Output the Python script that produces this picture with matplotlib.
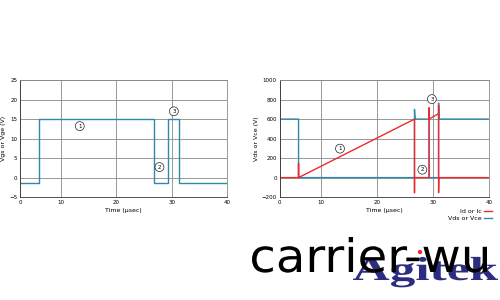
import matplotlib.pyplot as plt
from matplotlib.textpath import TextPath
from matplotlib.patches import PathPatch, Circle
from matplotlib.font_manager import FontProperties
from matplotlib.transforms import Affine2D, IdentityTransform

# left panel: gate voltage
t_gate = [2.6, 6.0, 6.0, 26.8, 26.8, 29.3, 29.3, 31.4, 31.4, 40]
v_gate = [-1.5, -1.5, 15, 15, -1.5, -1.5, 15, 15, -1.5, -1.5]

# right panel: drain voltage and current
t_vds = [2.6, 6.0, 6.0, 26.7, 26.7, 26.8, 29.3, 29.3, 31.0, 31.0, 31.1, 40]
v_vds = [600, 600, 0, 0, 700, 600, 600, 0, 0, 765, 600, 600]
t_id = [2.6, 6.0, 6.0, 6.0, 26.7, 26.7, 26.7, 29.3, 29.3, 29.3, 31.0, 31.0, 31.0, 31.05, 40]
v_id = [0, 0, 145, 0, 600, -155, 0, 0, 715, 600, 655, 740, -155, 0, 0]

labels_left = [("1", 13.4, 13.2), ("2", 27.8, 2.7), ("3", 30.4, 17.0)]
labels_right = [("1", 13.4, 297), ("2", 28.1, 81), ("3", 29.8, 805)]

blue = "#3088aa"
red = "#ee2a2f"

fig = plt.figure(figsize=(5, 3), dpi=100)
ax1 = fig.add_axes([0.04, 0.343, 0.414, 0.39])
ax2 = fig.add_axes([0.559, 0.343, 0.419, 0.39])


def style(ax, ylim, yticks):
    ax.set_xlim(2.6, 40)
    ax.set_ylim(*ylim)
    ax.set_xticks([2.6, 10, 20, 30, 40])
    ax.set_xticklabels(["0", "10", "20", "30", "40"])
    ax.set_yticks(yticks)
    ax.grid(True, color="#888888", linewidth=0.6)
    ax.tick_params(labelsize=4, length=0, pad=2)
    for s in ax.spines.values():
        s.set_color("#888888")
        s.set_linewidth(0.6)
    ax.spines["left"].set_color("#333333")
    ax.spines["bottom"].set_color("#333333")
    ax.set_xlabel("Time (µsec)", fontsize=4.5, labelpad=2)


style(ax1, (-5, 25), [-5, 0, 5, 10, 15, 20, 25])
ax1.plot(t_gate, v_gate, color=blue, linewidth=1.0)
ax1.set_ylabel("Vgs or Vge (V)", fontsize=4.5, labelpad=2)

style(ax2, (-200, 1000), [-200, 0, 200, 400, 600, 800, 1000])
ax2.plot(t_vds, v_vds, color=blue, linewidth=1.0, label="Vds or Vce")
ax2.plot(t_id, v_id, color=red, linewidth=1.0, label="Id or Ic")
ax2.set_ylabel("Vds or Vce (V)", fontsize=4.5, labelpad=2)

for ax, labs in ((ax1, labels_left), (ax2, labels_right)):
    for txt, x, y in labs:
        ax.text(x, y, txt, fontsize=4, ha="center", va="center",
                bbox=dict(boxstyle="circle,pad=0.35", fc="white", ec="#222222", lw=0.5))

h, l = ax2.get_legend_handles_labels()
leg = fig.legend(h[::-1], l[::-1], loc="upper right", bbox_to_anchor=(0.99, 0.315),
                 fontsize=4.5, frameon=False, markerfirst=False, handlelength=1.2,
                 labelspacing=0.3, borderpad=0, handletextpad=0.4)


# watermark text, stretched into a pixel box (x0, baseline, width, height)
def stretched(s, fp, x0, base, w, hgt, ref, color, z):
    tp = TextPath((0, 0), s, size=1, prop=fp)
    bb = tp.get_extents()
    hb = TextPath((0, 0), ref, size=1, prop=fp).get_extents()
    sx = w / bb.width
    sy = hgt / hb.y1
    tr = Affine2D().translate(-bb.x0, 0).scale(sx, sy).translate(x0, 300 - base)
    fig.patches.append(PathPatch(tr.transform_path(tp), fc=color, ec="none",
                                 transform=IdentityTransform(), zorder=z))


stretched("Agitek", FontProperties(family="Liberation Serif", weight="bold"),
          353, 280, 145, 22, "A", "#2c2c80", 5)
fig.patches.append(Circle((420, 300 - 252), 2.2, fc=red, ec="none",
                          transform=IdentityTransform(), zorder=6))
stretched("carrier-wu", FontProperties(family="DejaVu Sans"),
          252, 272, 235, 35, "carrier-wu", "black", 7)

fig.savefig("out.png", dpi=100)
